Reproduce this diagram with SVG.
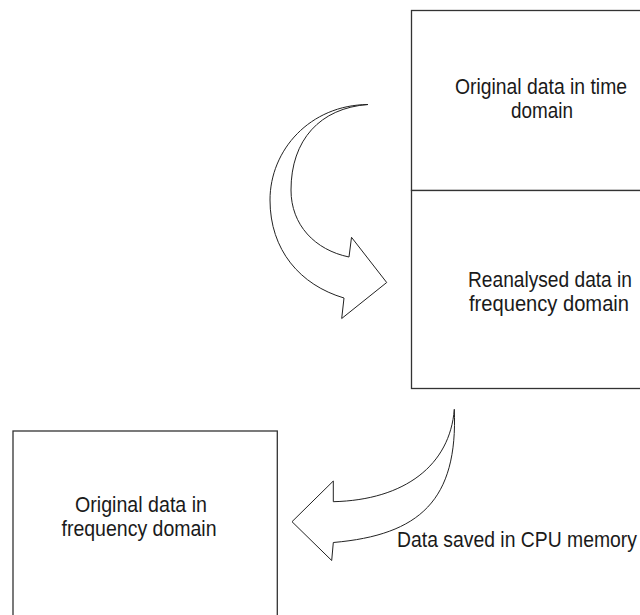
<svg xmlns="http://www.w3.org/2000/svg" width="640" height="615" viewBox="0 0 640 615">
<style>
.box{fill:#fff;stroke:#333;stroke-width:1.3}
.arrow{fill:#fff;stroke:#222;stroke-width:1;stroke-linejoin:miter}
.t{font-family:"Liberation Sans",Arial,sans-serif;font-size:22px;fill:#1a1a1a;text-anchor:middle}
.l{font-family:"Liberation Sans",Arial,sans-serif;font-size:22px;fill:#1a1a1a}
</style>
<rect width="640" height="615" fill="#fff"/>
<g id="node-time">
<rect class="box" x="411.5" y="10.5" width="300" height="180"/>
<text class="t" x="541" y="94" textLength="172" lengthAdjust="spacingAndGlyphs">Original data in time</text>
<text class="t" x="542" y="118" textLength="62" lengthAdjust="spacingAndGlyphs">domain</text>
</g>
<g id="node-reanalysed">
<rect class="box" x="411.5" y="190.5" width="300" height="198"/>
<text class="t" x="550" y="287" textLength="164" lengthAdjust="spacingAndGlyphs">Reanalysed data in</text>
<text class="t" x="549" y="311" textLength="160" lengthAdjust="spacingAndGlyphs">frequency domain</text>
</g>
<g id="node-freq">
<rect class="box" x="13" y="431" width="264.3" height="200"/>
<text class="t" x="141" y="512" textLength="132" lengthAdjust="spacingAndGlyphs">Original data in</text>
<text class="t" x="139" y="536" textLength="155" lengthAdjust="spacingAndGlyphs">frequency domain</text>
</g>
<g id="connectors">
<path id="arrow-reanalyse" class="arrow" d="M368,104.5 C310,105 270,150 270,200 C270,250 300,285 344,298 L341.7,318.5 L386.7,282.5 L351.5,237.3 L349,257 C315,250 291,225 291,190 C291,140 320,108 368,104.5 Z"/>
<path id="arrow-save" class="arrow" d="M454.3,409.3 C450,465 405,500 333.3,501.7 L333.3,481 L292,521.7 L331.7,560.5 L333.3,542.5 C420,535 458,500 454.3,409.3 Z"/>
<text class="l" x="397" y="547" textLength="240" lengthAdjust="spacingAndGlyphs">Data saved in CPU memory</text>
</g>
</svg>
